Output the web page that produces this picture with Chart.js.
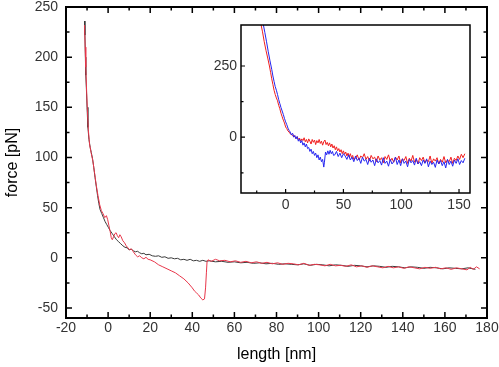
<!DOCTYPE html>
<html>
<head>
<meta charset="utf-8">
<script src="https://cdn.jsdelivr.net/npm/chart.js@4/dist/chart.umd.min.js"></script>
<style>
  html, body { margin: 0; padding: 0; background: #fff; }
  #wrap { position: relative; width: 499px; height: 367px; }
  #main { position: absolute; left: 0; top: 0; }
  #insetBox { position: absolute; left: 205px; top: 15px; width: 275px; height: 205px; }
</style>
</head>
<body>
<div id="wrap">
  <canvas id="main" width="499" height="367"></canvas>
  <div id="insetBox"><canvas id="inset" width="275" height="205"></canvas></div>
</div>
<script>
// ---------- Main chart data ----------
const mainXTicks = [-20, 0, 20, 40, 60, 80, 100, 120, 140, 160, 180];
const mainXMinor = [-10, 10, 30, 50, 70, 90, 110, 130, 150, 170];
const mainYTicks = [-50, 0, 50, 100, 150, 200, 250];
const mainYMinor = [-25, 25, 75, 125, 175, 225];

const blackX = [-11.2,-11.0,-10.8,-10.6,-10.3,-10.0,-9.6,-9.1,-8.5,-8.0,-7.4,-6.8,-6.2,-5.6,-5.0,-4.4,-3.8,-3.0,-2.2,-1.4,-0.6,0.2,1.0,2.0,3.0,4.0,5.0,6.0,7.0,8.0,9.0,10.0,11.0,12.0,13.0,14.0,15.0,16.0,17.0,18.0,19.5,21,22.5,24,25.5,27,28.5,30,31.5,33,34.5,36,37.5,39,40.5,42,43.5,45,46.5,
  48,51,54,57,60,63,66,69,72,75,78,81,84,87,90,93,96,99,102,105,108,111,114,117,120,123,126,129,132,135,138,141,144,147,150,153,156,159,162,165,168,171,174.5];
const blackY = [236,222,200,182,168,150,130,118,110,105,99,90,80,71,62,54,48,44,40,36,33,30,27,24,21,18,16,14,12,10.5,10,8,8.5,7,6,6.5,5,4,4.5,3,3.5,2,1.5,2,0.5,1,-0.5,0,-1,-0.5,-2,-1.5,-2.5,-1.5,-3,-2.5,-3.5,-2.5,-3.5,
  -3,-4,-3.5,-4.5,-4,-5,-4.5,-5.5,-5,-6,-5.5,-6.5,-6,-6.5,-7,-6,-7.5,-6.5,-7,-8,-7,-7.5,-8.5,-7.5,-8,-9,-8,-8.5,-9.5,-8.5,-9,-10,-9,-9.5,-10.5,-9.5,-10,-11,-10,-10.5,-11,-10,-11.5];

const redX = [-11.2,-10.9,-10.6,-10.3,-9.9,-9.4,-8.8,-8.0,-7.2,-6.4,-5.6,-4.8,-4.0,-3.2,-2.4,-1.6,-0.8,-0.2,0.4,1.0,1.5,2.0,2.6,3.2,3.8,4.4,5.0,5.6,6.2,7.0,7.8,8.6,9.4,10.2,11.0,12,13,14,15,16,17,18,19,20,22,24,26,28,30,32,34,36,38,40,41,42,43,44,45,45.8,46.3,46.7,47.0,
  47.5,49,51,53,55.5,58,60.5,63,65.5,68,70.5,73,75.5,78,80.5,83,85.5,88,90.5,93,95.5,98,100.5,103,105.5,108,110.5,113,115.5,118,120.5,123,125.5,128,130.5,133,135.5,138,140.5,143,145.5,148,150.5,153,155.5,158,160.5,163,165.5,168,170.5,172,173.5,175,176.5];
const redY = [232,210,190,172,150,128,113,104,96,84,72,62,53,47,44,40,42,38,32,26,20,18,21,24,25,22,20,23,21,17,15,12,10,8,9,6,3,1,2,0,-1,0.5,-1.5,-2,-4,-7,-9,-11,-13,-15,-18,-21,-25,-30,-33,-35,-37,-40,-42,-41,-30,-15,-4,
  -2,-3.5,-1.5,-3,-2.5,-4,-3,-4.5,-3.5,-5,-4,-5.5,-4.5,-6,-5,-6.5,-5.5,-6,-7,-5.5,-7.5,-6.5,-7,-8,-6.5,-8,-7.5,-8.5,-7,-9,-8,-9.5,-8,-9,-10,-8.5,-10,-9,-10.5,-9,-10,-11,-9.5,-10.5,-9.5,-11,-10,-11.5,-10,-11,-12,-9.5,-11.5,-9,-11];

// ---------- Inset data ----------
const insetXTicks = [0, 50, 100, 150];
const insetXMinor = [-25, 25, 75, 125];
const insetYTicks = [0, 250];
const insetYMinor = [-125, 125];

const insetRedX = [-21.5,-20,-18.5,-17,-15.5,-14,-13,-12,-11,-10,-9,-8,-7,-6,-5,-4,-3,-2,-1,0,1,2,3,4,5,6,7,8,9,10,11,12,13,14,15,16,17,18,19,20,21,22,23,24,25,26,27,28,29,30,31,32,33,34,35,36,37,38,39,40,41,42,43,44,45,46,47,48,49,50,51,52,53,54,55,56,57,58,59,
  60.5,62,63.5,65,66.5,68,69.5,71,72.5,74,75.5,77,78.5,80,81.5,83,84.5,86,87.5,89,90.5,92,93.5,95,96.5,98,99.5,101,102.5,104,105.5,107,108.5,110,111.5,113,114.5,116,117.5,119,120.5,122,123.5,125,126.5,128,129.5,131,132.5,134,135.5,137,138.5,140,141.5,143,144.5,146,147.5,149,150.5,152,153.5,155];
const insetRedY = [400,370,335,305,278,250,228,205,185,165,150,138,128,112,100,84,72,60,50,36,30,22,18,12,10,5,8,0,-4,2,-8,-3,-14,-6,-12,-2,-16,-8,-20,-6,-14,-24,-8,-18,-10,-26,-12,-20,-8,-22,-14,-28,-16,-10,-26,-18,-30,-20,-34,-24,-38,-30,-44,-34,-48,-40,-52,-44,-58,-48,-60,-52,-66,-56,-70,-58,-72,-64,-78,
  -74,-62,-80,-66,-72,-58,-78,-68,-84,-64,-76,-70,-86,-66,-80,-72,-90,-68,-78,-62,-84,-74,-88,-70,-80,-66,-90,-76,-82,-68,-92,-74,-84,-64,-88,-78,-94,-72,-82,-70,-90,-80,-86,-66,-92,-76,-84,-72,-94,-78,-88,-68,-90,-80,-86,-70,-92,-74,-82,-66,-78,-60,-72,-58];

const insetBlueX = [-19.5,-18,-16.5,-15,-13.5,-12,-11,-10,-9,-8,-7,-6,-5,-4,-3,-2,-1,0,1,2,3,4,5,6,7,8,9,10,11,12,13,14,15,16,17,18,19,20,21,22,23,24,25,26,27,28,29,30,31,32,33,33.5,34.5,35.5,36.5,37.5,38.5,39.5,40.5,41.5,
  42.5,44,45.5,47,48.5,50,51.5,53,54.5,56,57.5,59,60.5,62,63.5,65,66.5,68,69.5,71,72.5,74,75.5,77,78.5,80,81.5,83,84.5,86,87.5,89,90.5,92,93.5,95,96.5,98,99.5,101,102.5,104,105.5,107,108.5,110,111.5,113,114.5,116,117.5,119,120.5,122,123.5,125,126.5,128,129.5,131,132.5,134,135.5,137,138.5,140,141.5,143,144.5,146,147.5,149,150.5,152,153.5,155];
const insetBlueY = [400,368,335,300,268,238,215,196,178,165,150,132,118,104,92,80,66,54,44,32,24,18,8,14,0,6,-6,2,-14,-6,-20,-12,-28,-20,-34,-24,-40,-36,-50,-42,-58,-50,-64,-56,-72,-62,-80,-70,-86,-78,-105,-90,-52,-62,-48,-60,-46,-58,-50,-64,
  -62,-50,-68,-56,-72,-58,-66,-78,-62,-80,-70,-86,-66,-82,-74,-92,-70,-84,-78,-96,-74,-88,-80,-100,-76,-90,-82,-98,-72,-92,-84,-102,-78,-94,-86,-70,-96,-80,-100,-76,-92,-84,-104,-78,-90,-82,-98,-74,-94,-86,-100,-80,-92,-76,-104,-84,-96,-88,-106,-80,-94,-82,-100,-86,-108,-78,-96,-84,-102,-80,-92,-76,-96,-82,-90,-74];

// ---------- helpers ----------
const pts = (xs, ys) => xs.map((x, i) => ({ x: x, y: ys[i] }));
const FONT = "'Liberation Sans', Arial, sans-serif";

const frameTicks = {
  id: 'frameTicks',
  afterDatasetsDraw(chart, args, o) {
    const { ctx, chartArea: a, scales: { x, y } } = chart;
    ctx.save();
    ctx.strokeStyle = '#000';
    ctx.lineWidth = o.tickWidth;
    ctx.beginPath();
    const xt = (vals, len) => vals.forEach(v => {
      const p = x.getPixelForValue(v);
      ctx.moveTo(p, a.bottom); ctx.lineTo(p, a.bottom - len);
      if (o.mirror) { ctx.moveTo(p, a.top); ctx.lineTo(p, a.top + len); }
    });
    const yt = (vals, len) => vals.forEach(v => {
      const p = y.getPixelForValue(v);
      ctx.moveTo(a.left, p); ctx.lineTo(a.left + len, p);
      if (o.mirror) { ctx.moveTo(a.right, p); ctx.lineTo(a.right - len, p); }
    });
    xt(o.xMajor, o.major); xt(o.xMinor, o.minor);
    yt(o.yMajor, o.major); yt(o.yMinor, o.minor);
    ctx.stroke();
    ctx.lineWidth = o.frameWidth;
    ctx.strokeRect(a.left, a.top, a.right - a.left, a.bottom - a.top);
    ctx.restore();
  }
};

function makeOptions(cfg) {
  return {
    responsive: false,
    animation: false,
    events: [],
    layout: { padding: cfg.padding, autoPadding: false },
    plugins: {
      legend: { display: false },
      tooltip: { enabled: false },
      frameTicks: cfg.frame
    },
    elements: { point: { radius: 0 }, line: { tension: 0, borderWidth: 1 } },
    scales: {
      x: {
        type: 'linear', min: cfg.xMin, max: cfg.xMax,
        grid: { display: false, drawTicks: false },
        border: { display: false },
        afterBuildTicks: s => { s.ticks = cfg.xTicks.map(v => ({ value: v })); },
        afterFit: s => { s.height = cfg.xHeight; s.paddingLeft = 0; s.paddingRight = 0; },
        ticks: { color: '#333', font: { family: FONT, size: 14, lineHeight: 1 }, padding: cfg.xPad, maxRotation: 0, autoSkip: false },
        title: cfg.xTitle
      },
      y: {
        type: 'linear', min: cfg.yMin, max: cfg.yMax,
        grid: { display: false, drawTicks: false },
        border: { display: false },
        afterBuildTicks: s => { s.ticks = cfg.yTicks.map(v => ({ value: v })); },
        afterFit: s => { s.width = cfg.yWidth; s.paddingTop = 0; s.paddingBottom = 0; },
        ticks: { color: '#333', font: { family: FONT, size: 14, lineHeight: 1 }, padding: cfg.yPad, autoSkip: false },
        title: cfg.yTitle
      }
    }
  };
}

// ---------- Main chart ----------
new Chart(document.getElementById('main'), {
  type: 'line',
  data: {
    datasets: [
      { data: pts(redX, redY), borderColor: '#e8364a', borderWidth: 1, parsing: false },
      { data: pts(blackX, blackY), borderColor: '#3a3a3a', borderWidth: 1, parsing: false }
    ]
  },
  options: makeOptions({
    padding: { left: 0, top: 7, right: 12, bottom: 0 },
    xMin: -20, xMax: 180, yMin: -60, yMax: 250,
    xTicks: mainXTicks, yTicks: mainYTicks,
    xHeight: 49, yWidth: 66, xPad: 3, yPad: 8,
    xTitle: { display: true, text: 'length [nm]', color: '#000', font: { family: FONT, size: 16 }, padding: { top: 0, bottom: 3 } },
    yTitle: { display: true, text: 'force [pN]', color: '#000', font: { family: FONT, size: 16 }, padding: { top: 3, bottom: 0 } },
    frame: { xMajor: mainXTicks, xMinor: mainXMinor, yMajor: mainYTicks, yMinor: mainYMinor, major: 6, minor: 3.5, tickWidth: 1.5, frameWidth: 2, mirror: true }
  }),
  plugins: [frameTicks]
});

// ---------- Inset chart ----------
new Chart(document.getElementById('inset'), {
  type: 'line',
  data: {
    datasets: [
      { data: pts(insetBlueX, insetBlueY), borderColor: '#2424f0', borderWidth: 1, parsing: false },
      { data: pts(insetRedX, insetRedY), borderColor: '#f01e1e', borderWidth: 1, parsing: false }
    ]
  },
  options: makeOptions({
    padding: { left: 0, top: 10, right: 10, bottom: 0 },
    xMin: -38.6, xMax: 159.5, yMin: -196, yMax: 394,
    xTicks: insetXTicks, yTicks: insetYTicks,
    xHeight: 27, yWidth: 36, xPad: 5, yPad: 4,
    xTitle: { display: false },
    yTitle: { display: false },
    frame: { xMajor: insetXTicks, xMinor: insetXMinor, yMajor: insetYTicks, yMinor: insetYMinor, major: 4, minor: 2.5, tickWidth: 1.2, frameWidth: 1.5, mirror: false }
  }),
  plugins: [frameTicks]
});
</script>
</body>
</html>
